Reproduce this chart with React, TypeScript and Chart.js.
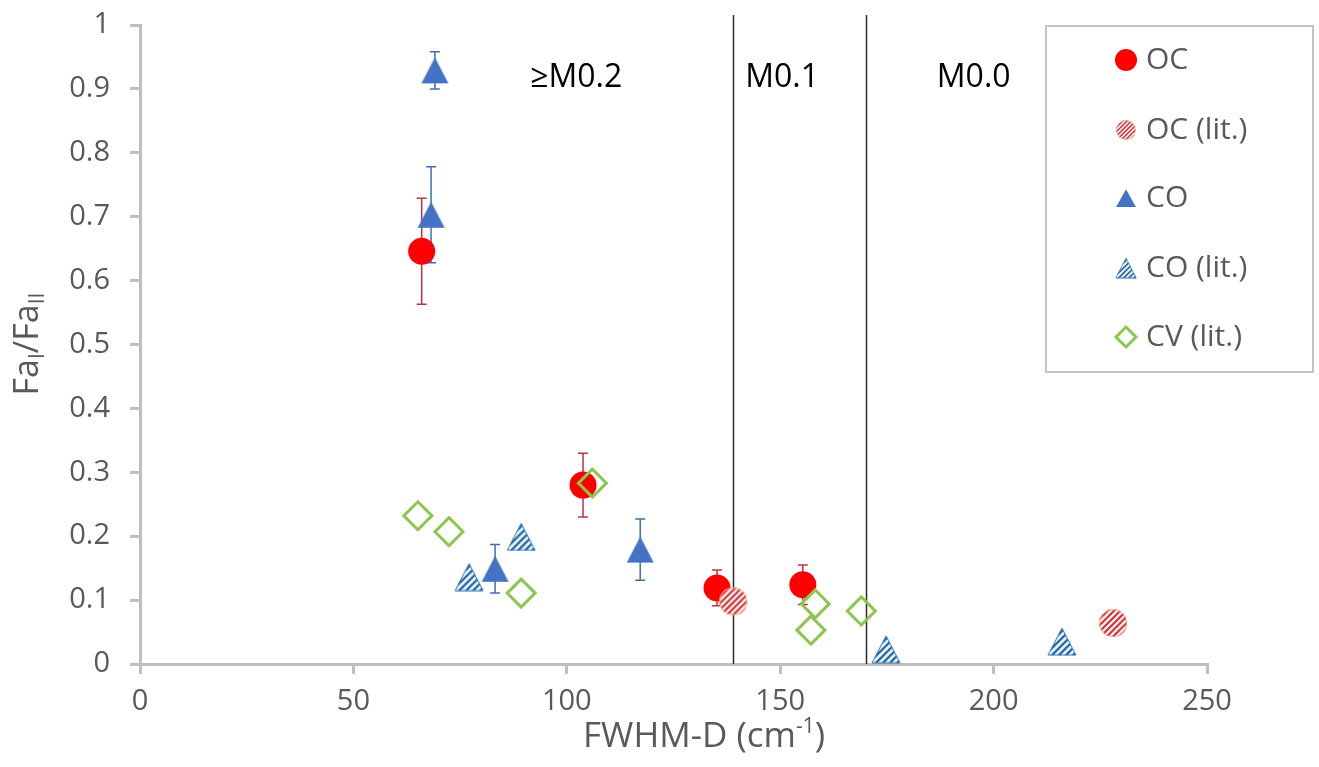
import React, { useEffect, useRef } from 'react';
import { Chart, registerables } from 'chart.js';
Chart.register(...registerables);

// ---------- data ----------
const ocX = [66, 103.8, 135.2, 155.3];
const ocY = [0.646, 0.28, 0.119, 0.124];
const ocErr = [0.083, 0.05, 0.028, 0.031];

const ocLitX = [139, 228];
const ocLitY = [0.098, 0.064];

const coX = [69.1, 68.2, 83.2, 117.2];
const coY = [0.929, 0.703, 0.149, 0.179];
const coErr = [0.029, 0.075, 0.038, 0.048];

const coLitX = [77.1, 89.3, 174.8, 216];
const coLitY = [0.136, 0.199, 0.023, 0.035];

const cvLitX = [65.1, 72.4, 89.3, 106, 158.2, 157.2, 169];
const cvLitY = [0.232, 0.207, 0.111, 0.283, 0.094, 0.053, 0.083];

const seriesNames = ['OC', 'OC (lit.)', 'CO', 'CO (lit.)', 'CV (lit.)'];

const xTickStep = 50;
const yTickStep = 0.1;

const regionLines = [139, 170];
const regionLabels = ['≥M0.2', 'M0.1', 'M0.0'];
const regionLabelX = [91.4, 141.8, 186.7];
const regionLabelY = 0.918;

const FONT = "'Open Sans', 'DejaVu Sans', sans-serif";

// ---------- marker images ----------
function makeCanvas(w: number, h: number) {
  const c = document.createElement('canvas');
  c.width = w;
  c.height = h;
  return c;
}

function hatchedCircle(r: number) {
  const s = Math.ceil(2 * r + 2);
  const c = makeCanvas(s, s);
  const g = c.getContext('2d')!;
  const cx = s / 2, cy = s / 2;
  g.save();
  g.beginPath();
  g.arc(cx, cy, r, 0, Math.PI * 2);
  g.fillStyle = '#fff8f6';
  g.fill();
  g.clip();
  g.strokeStyle = '#c9242c';
  g.lineWidth = 2;
  for (let k = -s; k < 2 * s; k += 6.2) {
    g.beginPath();
    g.moveTo(k, s);
    g.lineTo(k + s, 0);
    g.stroke();
  }
  g.restore();
  g.beginPath();
  g.arc(cx, cy, r - 0.5, 0, Math.PI * 2);
  g.strokeStyle = '#f0a88c';
  g.lineWidth = 1;
  g.stroke();
  return c;
}

function triangleImg(w: number, h: number, hatch: boolean) {
  const W = Math.ceil(w + 2), H = Math.ceil(h + 2);
  const c = makeCanvas(W, H);
  const g = c.getContext('2d')!;
  const path = () => {
    g.beginPath();
    g.moveTo(W / 2, 1);
    g.lineTo(W / 2 + w / 2, 1 + h);
    g.lineTo(W / 2 - w / 2, 1 + h);
    g.closePath();
  };
  if (!hatch) {
    path();
    g.fillStyle = '#4472C4';
    g.fill();
    return c;
  }
  g.save();
  path();
  g.fillStyle = '#eaf6fd';
  g.fill();
  g.clip();
  g.strokeStyle = '#1f5f96';
  g.lineWidth = 2.2;
  for (let k = -W - H; k < 2 * (W + H); k += 7) {
    g.beginPath();
    g.moveTo(k, H);
    g.lineTo(k + H, 0);
    g.stroke();
  }
  g.restore();
  path();
  g.strokeStyle = '#2e75b6';
  g.lineWidth = 1;
  g.stroke();
  return c;
}

export default function App() {
  const ref = useRef<HTMLCanvasElement>(null);

  useEffect(() => {
    const canvas = ref.current!;
    const ocLitImg = hatchedCircle(14);
    const coImg = triangleImg(27, 26, false);
    const coLitImg = triangleImg(28, 27, true);

    const errorSets = [
      { xs: ocX, ys: ocY, err: ocErr, color: '#b8343f' },
      { xs: coX, ys: coY, err: coErr, color: '#3f6fb5' },
    ];

    const overlay = {
      id: 'overlay',
      beforeDatasetsDraw(chart: any) {
        const { ctx, chartArea } = chart;
        const xs = chart.scales.x, ys = chart.scales.y;
        ctx.save();
        ctx.strokeStyle = '#2b2b2b';
        ctx.lineWidth = 1.5;
        regionLines.forEach((v) => {
          const px = Math.round(xs.getPixelForValue(v)) + 0.5;
          ctx.beginPath();
          ctx.moveTo(px, chartArea.top - 10);
          ctx.lineTo(px, chartArea.bottom);
          ctx.stroke();
        });
        errorSets.forEach((s) => {
          ctx.strokeStyle = s.color;
          ctx.lineWidth = 1.5;
          s.xs.forEach((xv, i) => {
            const px = xs.getPixelForValue(xv);
            const top = ys.getPixelForValue(s.ys[i] + s.err[i]);
            const bot = ys.getPixelForValue(s.ys[i] - s.err[i]);
            ctx.beginPath();
            ctx.moveTo(px, top);
            ctx.lineTo(px, bot);
            ctx.moveTo(px - 5, top);
            ctx.lineTo(px + 5, top);
            ctx.moveTo(px - 5, bot);
            ctx.lineTo(px + 5, bot);
            ctx.stroke();
          });
        });
        ctx.restore();
      },
      afterDraw(chart: any) {
        const { ctx } = chart;
        const xs = chart.scales.x, ys = chart.scales.y;
        ctx.save();
        ctx.fillStyle = '#000';
        ctx.font = `32px ${FONT}`;
        ctx.textBaseline = 'middle';
        ctx.textAlign = 'left';
        regionLabels.forEach((t, i) => {
          ctx.fillText(t, xs.getPixelForValue(regionLabelX[i]), ys.getPixelForValue(regionLabelY));
        });

        ctx.fillStyle = '#595959';
        ctx.textBaseline = 'alphabetic';
        const big = `35px ${FONT}`;
        const small = `21px ${FONT}`;
        const xParts: [string, string, number][] = [
          ['FWHM-D (cm', big, 0],
          ['-1', small, -14],
          [')', big, 0],
        ];
        let total = 0;
        xParts.forEach(([t, f]) => { ctx.font = f; total += ctx.measureText(t).width; });
        let cx = 704 - total / 2;
        xParts.forEach(([t, f, dy]) => {
          ctx.font = f;
          ctx.fillText(t, cx, 747 + dy);
          cx += ctx.measureText(t).width;
        });

        ctx.save();
        ctx.translate(38, 344);
        ctx.rotate(-Math.PI / 2);
        const yBig = `34px ${FONT}`;
        const ySmall = `21px ${FONT}`;
        const yParts: [string, string, number][] = [
          ['Fa', yBig, 0],
          ['I', ySmall, 6],
          ['/Fa', yBig, 0],
          ['II', ySmall, 6],
        ];
        total = 0;
        yParts.forEach(([t, f]) => { ctx.font = f; total += ctx.measureText(t).width; });
        let yx = -total / 2;
        yParts.forEach(([t, f, dy]) => {
          ctx.font = f;
          ctx.fillText(t, yx, dy);
          yx += ctx.measureText(t).width;
        });
        ctx.restore();

        const lx = 1046, ly = 26, lw = 267, lh = 346;
        ctx.fillStyle = '#ffffff';
        ctx.fillRect(lx, ly, lw, lh);
        ctx.strokeStyle = '#c4c4c4';
        ctx.lineWidth = 2;
        ctx.strokeRect(lx, ly, lw, lh);
        const rows = [60, 130, 198, 268, 337];
        const mx = 1126;
        rows.forEach((ry, i) => {
          if (i === 0) {
            ctx.beginPath();
            ctx.arc(mx, ry, 11, 0, Math.PI * 2);
            ctx.fillStyle = '#FF0000';
            ctx.fill();
          } else if (i === 1) {
            ctx.drawImage(ocLitImg, mx - 10.5, ry - 10.5, 21, 21);
          } else if (i === 2) {
            ctx.drawImage(coImg, mx - 10.5, ry - 9.5, 21, 19);
          } else if (i === 3) {
            ctx.drawImage(coLitImg, mx - 11, ry - 10.5, 22, 21);
          } else {
            ctx.beginPath();
            ctx.moveTo(mx - 10, ry);
            ctx.lineTo(mx, ry - 10);
            ctx.lineTo(mx + 10, ry);
            ctx.lineTo(mx, ry + 10);
            ctx.closePath();
            ctx.strokeStyle = '#8cc64e';
            ctx.lineWidth = 3;
            ctx.stroke();
          }
          ctx.fillStyle = '#595959';
          ctx.font = `30px ${FONT}`;
          ctx.textBaseline = 'middle';
          ctx.textAlign = 'left';
          ctx.fillText(seriesNames[i], 1146, ry);
        });
        ctx.restore();
      },
    };

    const pts = (xs: number[], ys: number[]) => xs.map((x, i) => ({ x, y: ys[i] }));

    const axisCommon = {
      grid: { drawOnChartArea: false, drawTicks: true, tickLength: 10, color: '#bfbfbf', lineWidth: 3 },
      border: { display: true, color: '#bfbfbf', width: 3 },
    };

    const chart = new Chart(canvas, {
      type: 'scatter',
      data: {
        datasets: [
          {
            label: seriesNames[0],
            data: pts(ocX, ocY),
            pointStyle: 'circle',
            pointRadius: 13.5,
            backgroundColor: '#FF0000',
            borderColor: '#FF0000',
            borderWidth: 0,
            order: 5,
          },
          {
            label: seriesNames[1],
            data: pts(ocLitX, ocLitY),
            pointStyle: ocLitImg as any,
            pointRadius: 14,
            order: 4,
          },
          {
            label: seriesNames[2],
            data: pts(coX, coY),
            pointStyle: coImg as any,
            pointRadius: 14,
            order: 3,
          },
          {
            label: seriesNames[3],
            data: pts(coLitX, coLitY),
            pointStyle: coLitImg as any,
            pointRadius: 14,
            order: 2,
          },
          {
            label: seriesNames[4],
            data: pts(cvLitX, cvLitY),
            pointStyle: 'rectRot',
            pointRadius: 14,
            backgroundColor: 'rgba(255,255,255,0)',
            borderColor: '#8cc64e',
            borderWidth: 3,
            order: 1,
          },
        ],
      },
      options: {
        animation: false,
        responsive: false,
        layout: { padding: { top: 25, right: 112, left: 0, bottom: 0 } },
        plugins: { legend: { display: false }, tooltip: { enabled: false } },
        scales: {
          x: {
            type: 'linear',
            min: 0,
            max: 250,
            ticks: { stepSize: xTickStep, color: '#595959', font: { family: FONT, size: 29 }, padding: 10 },
            ...axisCommon,
            afterFit: (s: any) => { s.height = 103; s.paddingLeft = 0; s.paddingRight = 0; },
          },
          y: {
            type: 'linear',
            min: 0,
            max: 1,
            ticks: {
              stepSize: yTickStep,
              color: '#595959',
              font: { family: FONT, size: 29 },
              padding: 20,
              callback: (v: any) => String(Math.round(Number(v) * 10) / 10),
            },
            ...axisCommon,
            afterFit: (s: any) => { s.width = 140; s.paddingTop = 0; s.paddingBottom = 0; },
          },
        },
      },
      plugins: [overlay],
    } as any);

    return () => chart.destroy();
  }, []);

  return (
    <div style={{ position: 'fixed', left: 0, top: 0, width: 1319, height: 767, background: '#fff' }}>
      <canvas ref={ref} width={1319} height={767} style={{ display: 'block' }} />
    </div>
  );
}
